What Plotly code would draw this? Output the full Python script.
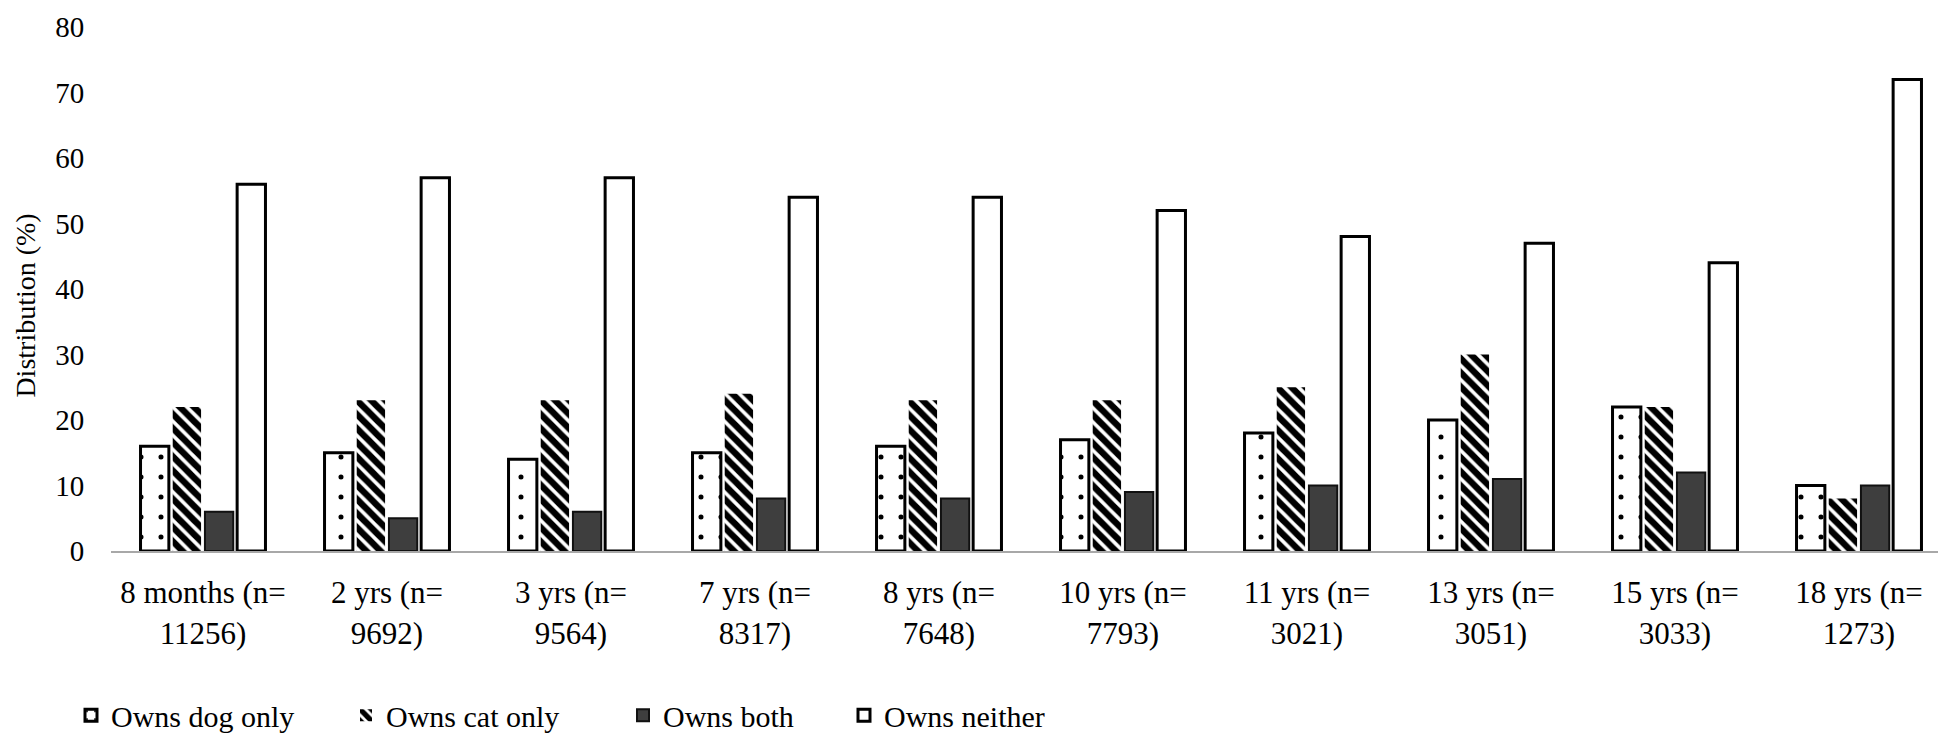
import plotly.graph_objects as go

ages = ["8 months", "2 yrs", "3 yrs", "7 yrs", "8 yrs", "10 yrs", "11 yrs", "13 yrs", "15 yrs", "18 yrs"]
sample_n = ["11256", "9692", "9564", "8317", "7648", "7793", "3021", "3051", "3033", "1273"]

dog_only = [16, 15, 14, 15, 16, 17, 18, 20, 22, 10]
cat_only = [22, 23, 23, 24, 23, 23, 25, 30, 22, 8]
both = [6, 5, 6, 8, 8, 9, 10, 11, 12, 10]
neither = [56, 57, 57, 54, 54, 52, 48, 47, 44, 72]

series_names = ["Owns dog only", "Owns cat only", "Owns both", "Owns neither"]
y_ticks = [0, 10, 20, 30, 40, 50, 60, 70, 80]

labels = [f"{a} (n=<br>{n})" for a, n in zip(ages, sample_n)]

W, H = 1946, 736
ML, MR, MT, MB = 103, 3, 13, 187
PH = H - MT - MB
FONT = "Liberation Serif, Times New Roman, serif"

fig = go.Figure()
fig.add_bar(
    x=labels, y=dog_only, name=series_names[0], legend="legend",
    marker=dict(color="white", line=dict(color="black", width=3),
                pattern=dict(shape=".", fgcolor="black", bgcolor="white", fgopacity=1,
                             size=20, solidity=0.05)),
)
fig.add_bar(
    x=labels, y=cat_only, name=series_names[1], legend="legend2",
    marker=dict(color="white", line=dict(color="white", width=0),
                pattern=dict(shape="\\", fgcolor="black", bgcolor="white", fgopacity=1,
                             size=10, solidity=0.65)),
)
fig.add_bar(
    x=labels, y=both, name=series_names[2], legend="legend3",
    marker=dict(color="#3e3e3e", line=dict(color="#111111", width=2)),
)
fig.add_bar(
    x=labels, y=neither, name=series_names[3], legend="legend4",
    marker=dict(color="white", line=dict(color="black", width=3)),
)

def ypaper(py):
    return (H - MB - py) / PH

def xpaper(px):
    return (px - ML) / (W - ML - MR)

legend_common = dict(orientation="h", yanchor="middle", xanchor="left",
                     font=dict(family=FONT, size=30, color="black"),
                     bgcolor="rgba(0,0,0,0)", borderwidth=0, itemclick=False)
leg_text_x = [103, 378, 655, 876]
legs = {}
for i, key in enumerate(["legend", "legend2", "legend3", "legend4"]):
    legs[key] = dict(legend_common, x=xpaper(leg_text_x[i] - 40), y=ypaper(717))

fig.update_layout(
    width=W, height=H,
    margin=dict(l=ML, r=MR, t=MT, b=MB),
    paper_bgcolor="white", plot_bgcolor="white",
    barmode="group", bargap=0.30, bargroupgap=0.12,
    font=dict(family=FONT, size=29, color="black"),
    showlegend=True,
    **legs,
)
fig.update_xaxes(
    showgrid=False, showline=True, linecolor="#a8a8a8", linewidth=2,
    ticks="outside", ticklen=13, tickcolor="rgba(0,0,0,0)",
    tickfont=dict(family=FONT, size=31, color="black"),
    zeroline=False,
)
fig.update_yaxes(
    range=[0, 80], tickvals=y_ticks, showgrid=False, showline=False, zeroline=False,
    ticks="outside", ticklen=20, tickcolor="rgba(0,0,0,0)",
    ticklabeloverflow="allow",
    tickfont=dict(family=FONT, size=29, color="black"),
)
fig.add_annotation(
    text="Distribution (%)", textangle=-90, showarrow=False,
    xref="paper", yref="paper", x=xpaper(18), y=ypaper(298),
    xanchor="center", yanchor="middle",
    font=dict(family=FONT, size=28, color="black"),
)

fig.write_html("out.html")
